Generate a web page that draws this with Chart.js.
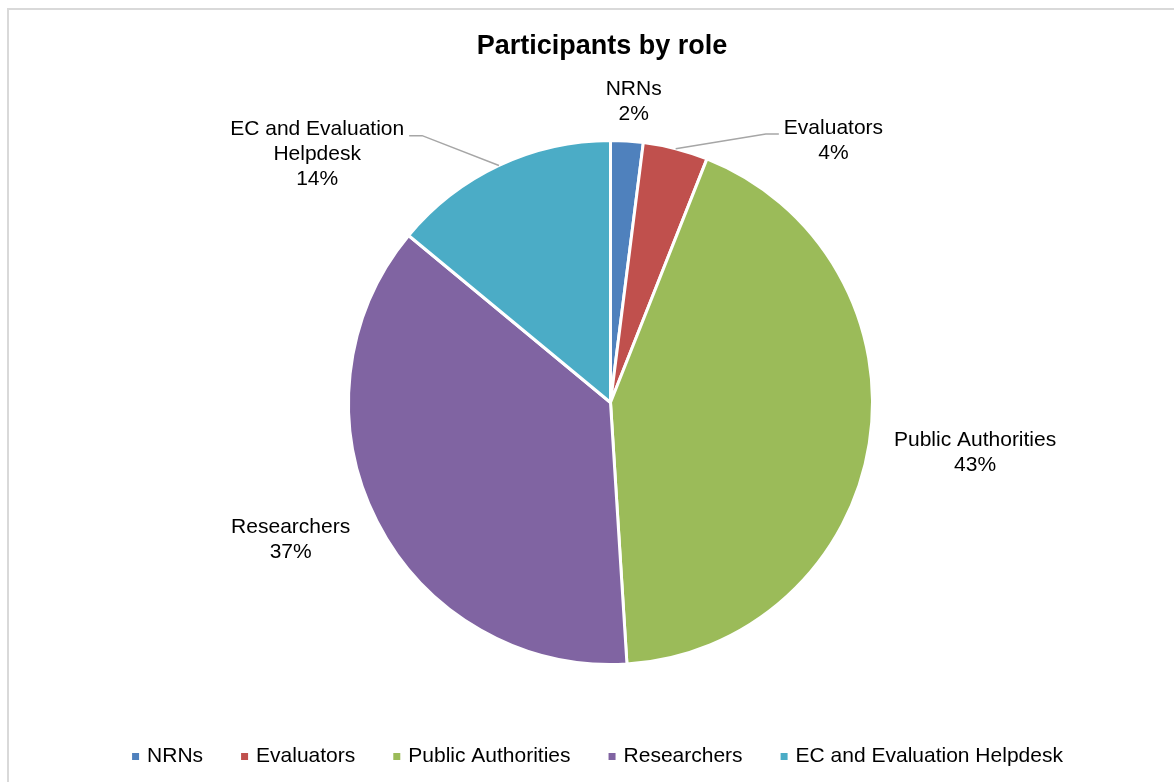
<!DOCTYPE html>
<html>
<head>
<meta charset="utf-8">
<script src="https://cdn.jsdelivr.net/npm/chart.js@4.4.1/dist/chart.umd.min.js"></script>
<style>
  html, body { margin: 0; padding: 0; background: #fff; }
  #wrap { width: 1174px; height: 782px; position: relative; }
</style>
</head>
<body>
<div id="wrap"><canvas id="chartParticipants" width="1174" height="782"></canvas></div>
<script>
const categories = ['NRNs', 'Evaluators', 'Public Authorities', 'Researchers', 'EC and Evaluation Helpdesk'];
const labelLines = [['NRNs'], ['Evaluators'], ['Public Authorities'], ['Researchers'], ['EC and Evaluation', 'Helpdesk']];
const shares = [2, 4, 43, 37, 14];
const colors = ['#4f81bd', '#c0504d', '#9bbb59', '#8064a2', '#4bacc6'];

// where the data labels sit: angle (deg, clockwise from 12 o'clock) and distance past the rim
const labelAngle = [4.4, 40.4, 97.8, 246.8, 310.2];
const labelGap = [40, 82, 106, 86, 122];
const hasLeader = [false, true, false, false, true];

const FONT = '"Liberation Sans", Arial, sans-serif';
const TITLE = 'Participants by role';

const frameAndText = {
  id: 'frameAndText',
  beforeDraw(chart) {
    const ctx = chart.ctx;
    ctx.save();
    ctx.fillStyle = '#d9d9d9';
    ctx.fillRect(7, 8, chart.width - 7, 2);
    ctx.fillRect(7, 8, 2, chart.height - 8);
    ctx.restore();
  },
  afterDraw(chart) {
    const ctx = chart.ctx;
    const arcs = chart.getDatasetMeta(0).data;
    ctx.save();

    // title
    ctx.fillStyle = '#000';
    ctx.font = 'bold 27px ' + FONT;
    ctx.textAlign = 'center';
    ctx.textBaseline = 'alphabetic';
    ctx.fillText(TITLE, 602, 54);

    // data labels + leader lines
    ctx.font = '21px ' + FONT;
    ctx.textBaseline = 'middle';
    const lh = 25;
    arcs.forEach((arc, i) => {
      const { x, y, startAngle, endAngle, outerRadius } =
        arc.getProps(['x', 'y', 'startAngle', 'endAngle', 'outerRadius'], true);
      const lines = [...labelLines[i], shares[i] + '%'];
      const a = labelAngle[i] * Math.PI / 180;
      const d = outerRadius + labelGap[i];
      const cx = x + d * Math.sin(a);
      const cy = y - d * Math.cos(a);
      const top = cy - (lines.length * lh) / 2;
      ctx.fillStyle = '#000';
      ctx.textAlign = 'center';
      lines.forEach((t, k) => ctx.fillText(t, cx, top + lh * (k + 0.5)));

      if (hasLeader[i]) {
        const mid = (startAngle + endAngle) / 2;
        const sx = x + outerRadius * Math.cos(mid);
        const sy = y + outerRadius * Math.sin(mid);
        const w = Math.max(...lines.map((t) => ctx.measureText(t).width));
        const side = cx > x ? -1 : 1;
        const ex = cx + side * (w / 2 + 5);
        const ey = top + 18.5;
        ctx.strokeStyle = '#a6a6a6';
        ctx.lineWidth = 1.5;
        ctx.beginPath();
        ctx.moveTo(sx, sy);
        ctx.lineTo(ex + side * 13, ey);
        ctx.lineTo(ex, ey);
        ctx.stroke();
      }
    });

    // legend
    ctx.font = '21px ' + FONT;
    ctx.textAlign = 'left';
    const widths = categories.map((c) => 15 + ctx.measureText(c).width);
    const gap = 38;
    const total = widths.reduce((s, w) => s + w, 0) + gap * (widths.length - 1);
    let lx = 597.5 - total / 2;
    categories.forEach((c, i) => {
      ctx.fillStyle = colors[i];
      ctx.fillRect(lx, 753, 7, 7);
      ctx.fillStyle = '#000';
      ctx.fillText(c, lx + 15, 756);
      lx += widths[i] + gap;
    });

    ctx.restore();
  },
};

new Chart(document.getElementById('chartParticipants').getContext('2d'), {
  type: 'pie',
  data: {
    labels: categories,
    datasets: [
      {
        data: shares,
        backgroundColor: colors,
        borderColor: '#ffffff',
        borderWidth: 3,
      },
    ],
  },
  options: {
    responsive: false,
    animation: false,
    layout: {
      padding: { left: 347, right: 300, top: 139, bottom: 116 },
    },
    plugins: {
      legend: { display: false },
      title: { display: false },
      tooltip: { enabled: false },
    },
  },
  plugins: [frameAndText],
});
</script>
</body>
</html>
